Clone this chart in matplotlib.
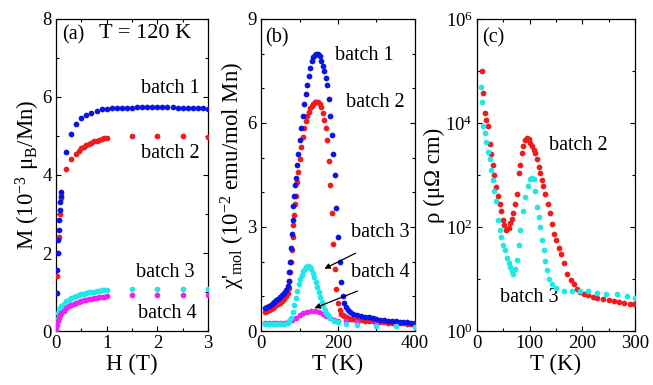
import matplotlib
matplotlib.use("Agg")
import matplotlib.pyplot as plt
import numpy as np
from matplotlib.ticker import MultipleLocator, FixedLocator, LogFormatterSciNotation, NullFormatter

# ---------------- data ----------------
# (a) M vs H at T = 120 K
H_b1 = [0.0, 0.01, 0.02, 0.03, 0.04, 0.05, 0.06, 0.07, 0.08, 0.09, 0.10,
        0.2, 0.3, 0.4, 0.5, 0.6, 0.7, 0.8, 0.9, 1.0, 1.1, 1.2, 1.3, 1.4,
        1.5, 1.6, 1.7, 1.8, 1.9, 2.0, 2.1, 2.2, 2.3, 2.4, 2.5, 2.6, 2.7,
        2.8, 2.9, 3.0]
M_b1 = [0.0, 0.97, 1.56, 2.0, 2.33, 2.6, 2.85, 3.1, 3.3, 3.45, 3.57,
        4.6, 5.05, 5.3, 5.45, 5.55, 5.6, 5.65, 5.68, 5.7, 5.71, 5.72, 5.72, 5.73,
        5.73, 5.74, 5.74, 5.75, 5.75, 5.75, 5.75, 5.74, 5.74, 5.73, 5.73, 5.72, 5.72,
        5.71, 5.71, 5.7]
H_b2 = [0.02, 0.05, 0.08, 0.10, 0.2, 0.3, 0.4, 0.45, 0.5, 0.55, 0.6, 0.65,
        0.7, 0.75, 0.8, 0.85, 0.9, 0.95, 1.0, 1.5, 2.0, 2.5, 3.0]
M_b2 = [1.4, 2.4, 3.0, 3.4, 4.15, 4.42, 4.55, 4.62, 4.68, 4.72, 4.76, 4.8,
        4.83, 4.86, 4.88, 4.9, 4.92, 4.94, 4.95, 5.0, 5.0, 5.0, 4.98]
H_b34 = [0.0, 0.02, 0.04, 0.06, 0.08, 0.1, 0.15, 0.2, 0.25, 0.3, 0.35, 0.4,
         0.45, 0.5, 0.55, 0.6, 0.65, 0.7, 0.75, 0.8, 0.85, 0.9, 0.95, 1.0,
         1.5, 2.0, 2.5, 3.0]
M_b3 = [0.0, 0.3, 0.45, 0.52, 0.58, 0.63, 0.7, 0.76, 0.8, 0.84, 0.87, 0.9,
        0.92, 0.94, 0.96, 0.98, 0.99, 1.0, 1.01, 1.02, 1.03, 1.04, 1.04, 1.05,
        1.07, 1.07, 1.07, 1.07]
M_b4 = [0.05, 0.15, 0.25, 0.33, 0.4, 0.45, 0.52, 0.58, 0.63, 0.67, 0.7, 0.73,
        0.75, 0.77, 0.79, 0.8, 0.82, 0.83, 0.84, 0.85, 0.86, 0.87, 0.88, 0.9,
        0.92, 0.92, 0.92, 0.92]

# (b) chi' vs T
T_b12 = [10, 15, 20, 25, 30, 35, 40, 45, 50, 55, 60, 65, 70, 72, 74, 76, 78, 80,
         82, 84, 86, 88, 90, 93, 96, 100, 104, 108, 112, 116, 120, 124, 128, 132,
         136, 140, 144, 148, 152, 156, 160, 164, 168, 172, 176, 180, 184, 188, 192,
         196, 200, 204, 208, 212, 216, 220, 225, 230, 240, 250, 260, 270, 280, 290,
         300, 310, 320, 330, 340, 350, 360, 370, 380, 390, 400]
chi_b1 = [0.65, 0.68, 0.72, 0.76, 0.8, 0.84, 0.88, 0.93, 0.98, 1.03, 1.1, 1.18, 1.3,
          1.45, 1.7, 2.0, 2.4, 2.8, 3.2, 3.6, 3.9, 4.2, 4.4, 4.8, 5.1, 5.5, 5.85,
          6.2, 6.55, 6.85, 7.1, 7.35, 7.6, 7.78, 7.9, 7.97, 8.0, 7.98, 7.92, 7.8,
          7.65, 7.5, 7.3, 7.1, 6.7, 6.2, 5.65, 5.1, 4.5, 3.55, 2.7, 2.0, 1.4, 1.0,
          0.8, 0.68, 0.6, 0.55, 0.5, 0.46, 0.43, 0.41, 0.39, 0.37, 0.35, 0.33, 0.32,
          0.3, 0.29, 0.28, 0.27, 0.26, 0.25, 0.24, 0.23]
chi_b2 = [0.55, 0.58, 0.61, 0.64, 0.67, 0.7, 0.74, 0.78, 0.82, 0.87, 0.93, 1.0, 1.1,
          1.25, 1.45, 1.7, 2.0, 2.35, 2.7, 3.05, 3.35, 3.65, 3.9, 4.3, 4.6, 4.95,
          5.3, 5.6, 5.85, 6.05, 6.2, 6.32, 6.42, 6.5, 6.56, 6.6, 6.62, 6.6, 6.55,
          6.45, 6.3, 6.1, 5.85, 5.5, 4.9, 4.2, 3.4, 2.5, 1.8, 1.2, 0.8, 0.6, 0.5,
          0.45, 0.42, 0.4, 0.38, 0.36, 0.34, 0.32, 0.31, 0.3, 0.29, 0.28, 0.27,
          0.26, 0.25, 0.24, 0.24, 0.23, 0.22, 0.22, 0.21, 0.21, 0.2]
T_b3 = [10, 20, 30, 40, 50, 60, 70, 74, 78, 82, 86, 90, 94, 98, 102, 106, 110, 114,
        118, 122, 126, 130, 134, 138, 142, 146, 150, 154, 158, 162, 166, 170, 175,
        180, 190, 200, 220, 250, 300, 350, 400]
chi_b3 = [0.2, 0.2, 0.2, 0.2, 0.2, 0.21, 0.22, 0.28, 0.38, 0.55, 0.75, 0.95, 1.15,
          1.35, 1.5, 1.62, 1.73, 1.8, 1.86, 1.88, 1.85, 1.78, 1.68, 1.55, 1.42,
          1.28, 1.12, 0.98, 0.85, 0.73, 0.62, 0.53, 0.45, 0.38, 0.3, 0.25, 0.2,
          0.17, 0.15, 0.13, 0.12]
T_b4 = [10, 20, 30, 40, 50, 60, 70, 80, 90, 100, 110, 120, 130, 140, 150, 160, 170,
        180, 190, 200, 220, 250, 300, 350, 400]
chi_b4 = [0.22, 0.22, 0.22, 0.23, 0.23, 0.24, 0.27, 0.32, 0.38, 0.45, 0.51, 0.55,
          0.58, 0.58, 0.55, 0.5, 0.43, 0.37, 0.33, 0.3, 0.28, 0.26, 0.24, 0.22, 0.2]

# (c) resistivity vs T (values given as log10 of rho in micro-ohm cm)
T_r2 = [9, 12, 15, 18, 21, 24, 27, 30, 33, 36.7, 40, 43, 46, 49, 52, 56, 60, 63, 66,
        69, 72, 75.6, 79, 82, 85, 88, 92, 95, 98, 101, 104, 108, 111, 114, 117, 120,
        123, 126, 130, 134, 139, 143, 146, 150, 155, 159, 165, 171, 178, 184, 190,
        196, 203, 210, 220, 228, 240, 250, 260, 270, 280, 290, 298]
lrho_r2 = [5.0, 4.57, 4.2, 4.05, 3.95, 3.6, 3.4, 3.2, 3.0, 2.77, 2.6, 2.45, 2.3, 2.13,
           2.03, 1.94, 1.98, 2.07, 2.15, 2.26, 2.45, 2.64, 3.03, 3.2, 3.42, 3.55, 3.67,
           3.72, 3.7, 3.62, 3.55, 3.48, 3.42, 3.3, 3.15, 3.03, 2.9, 2.78, 2.64, 2.45,
           2.26, 2.05, 1.87, 1.75, 1.6, 1.49, 1.3, 1.1, 0.98, 0.9, 0.8, 0.75, 0.71,
           0.69, 0.66, 0.64, 0.62, 0.6, 0.58, 0.55, 0.53, 0.52, 0.51]
T_r3 = [8, 9, 12, 15, 18, 21, 24, 27, 30, 33, 37, 40, 43, 46, 50, 53, 57, 60, 63, 66,
        69, 72, 75.6, 79, 82, 87, 92, 96, 101, 105, 108, 111, 114, 117, 120, 124, 127,
        130, 133, 137, 142, 150, 165, 180, 196, 210, 228, 245, 266, 285, 300]
lrho_r3 = [4.7, 4.4, 3.95, 3.8, 3.63, 3.45, 3.3, 3.1, 2.9, 2.7, 2.5, 2.13, 1.95, 1.8,
           1.65, 1.55, 1.4, 1.3, 1.23, 1.15, 1.1, 1.2, 1.36, 1.65, 1.94, 2.3, 2.58,
           2.78, 2.93, 2.95, 2.93, 2.7, 2.39, 2.2, 2.0, 1.75, 1.55, 1.35, 1.17, 1.0,
           0.9, 0.82, 0.77, 0.77, 0.77, 0.76, 0.74, 0.72, 0.71, 0.68, 0.64]

rho_major_ticks = [1, 1e2, 1e4, 1e6]
rho_minor_ticks = [1e1, 1e3, 1e5]

# ---------------- style ----------------
plt.rcParams['font.family'] = ['Liberation Serif', 'DejaVu Serif']
plt.rcParams['mathtext.fontset'] = 'custom'
plt.rcParams['mathtext.rm'] = 'Liberation Serif'
plt.rcParams['mathtext.it'] = 'Liberation Serif:italic'
plt.rcParams['mathtext.bf'] = 'Liberation Serif:bold'

BLUE = '#0a14e6'
RED = '#ee1c1c'
CYAN = '#1ee8e8'
MAG = '#ee22ee'
TICKFS = 13.5
LABFS = 16.5
ANNFS = 14.5
MS = 17

W, Hh = 6.53, 3.85
fig = plt.figure(figsize=(W, Hh), dpi=100)

def px_axes(x0, x1, y0=19, y1=331):
    return fig.add_axes([x0 / 653, 1 - y1 / 385, (x1 - x0) / 653, (y1 - y0) / 385])

def style(ax):
    ax.tick_params(which='both', direction='in', top=True, right=True,
                   labelsize=TICKFS, width=0.8, pad=3)
    ax.tick_params(which='major', length=3.5)
    ax.tick_params(which='minor', length=2)
    for s in ax.spines.values():
        s.set_linewidth(0.9)

# ---- panel (a)
axa = px_axes(56, 208)
axa.scatter(H_b2, M_b2, s=MS, color=RED, lw=0, zorder=3)
axa.scatter(H_b1, M_b1, s=MS, color=BLUE, lw=0, zorder=4)
axa.scatter(H_b34, M_b3, s=MS, color=CYAN, lw=0, zorder=3)
axa.scatter(H_b34, M_b4, s=MS, color=MAG, lw=0, zorder=4)
axa.set_xlim(0, 3)
axa.set_ylim(0, 8)
axa.xaxis.set_major_locator(MultipleLocator(1))
axa.xaxis.set_minor_locator(MultipleLocator(0.5))
axa.yaxis.set_major_locator(MultipleLocator(2))
axa.yaxis.set_minor_locator(MultipleLocator(1))
style(axa)
axa.set_xlabel('H (T)', fontsize=LABFS, labelpad=1)
axa.set_ylabel(r'M (10$^{-3}$ $\mathrm{\mu}_{\mathrm{B}}$/Mn)', fontsize=LABFS, labelpad=0)
axa.text(0.12, 7.6, '(a)', fontsize=ANNFS, va='center', ha='left')
axa.text(0.85, 7.62, 'T = 120 K', fontsize=16, va='center', ha='left')
axa.text(2.25, 6.23, 'batch 1', fontsize=ANNFS, va='center', ha='center')
axa.text(2.25, 4.56, 'batch 2', fontsize=ANNFS, va='center', ha='center')
axa.text(2.15, 1.51, 'batch 3', fontsize=ANNFS, va='center', ha='center')
axa.text(2.2, 0.46, 'batch 4', fontsize=ANNFS, va='center', ha='center')

# ---- panel (b)
axb = px_axes(261, 415)
axb.scatter(T_b12, chi_b2, s=MS, color=RED, lw=0, zorder=3)
axb.scatter(T_b12, chi_b1, s=MS, color=BLUE, lw=0, zorder=4)
axb.scatter(T_b4, chi_b4, s=MS, color=MAG, lw=0, zorder=3)
axb.scatter(T_b3, chi_b3, s=MS, color=CYAN, lw=0, zorder=4)
axb.set_xlim(0, 400)
axb.set_ylim(0, 9)
axb.xaxis.set_major_locator(MultipleLocator(200))
axb.xaxis.set_minor_locator(MultipleLocator(100))
axb.yaxis.set_major_locator(MultipleLocator(3))
axb.yaxis.set_minor_locator(MultipleLocator(1))
style(axb)
axb.set_xlabel('T (K)', fontsize=LABFS, labelpad=1)
axb.set_ylabel("χ'$_{\\mathrm{mol}}$ (10$^{-2}$ emu/mol Mn)", fontsize=LABFS, labelpad=0)
axb.text(10, 8.45, '(b)', fontsize=ANNFS, va='center', ha='left')
axb.text(268, 7.96, 'batch 1', fontsize=ANNFS, va='center', ha='center')
axb.text(296, 6.58, 'batch 2', fontsize=ANNFS, va='center', ha='center')
axb.text(309, 2.83, 'batch 3', fontsize=ANNFS, va='center', ha='center')
axb.text(309, 1.70, 'batch 4', fontsize=ANNFS, va='center', ha='center')
arrow = dict(arrowstyle='-|>', color='black', lw=0.9, mutation_scale=8)
axb.annotate('', xy=(158, 1.76), xytext=(252, 2.28), arrowprops=arrow, zorder=6)
axb.annotate('', xy=(132, 0.63), xytext=(257, 1.18), arrowprops=arrow, zorder=6)

# ---- panel (c)
axc = px_axes(477, 635)
axc.scatter(T_r2, np.power(10.0, lrho_r2), s=MS, color=RED, lw=0, zorder=3)
axc.scatter(T_r3, np.power(10.0, lrho_r3), s=MS, color=CYAN, lw=0, zorder=4)
axc.set_yscale('log')
axc.set_xlim(0, 300)
axc.set_ylim(1, 1e6)
axc.xaxis.set_major_locator(MultipleLocator(100))
axc.xaxis.set_minor_locator(MultipleLocator(50))
axc.yaxis.set_major_locator(FixedLocator(rho_major_ticks))
axc.yaxis.set_major_formatter(LogFormatterSciNotation())
axc.yaxis.set_minor_locator(FixedLocator(rho_minor_ticks))
axc.yaxis.set_minor_formatter(NullFormatter())
style(axc)
axc.set_xlabel('T (K)', fontsize=LABFS, labelpad=1)
axc.set_ylabel('ρ (μΩ cm)', fontsize=LABFS, labelpad=0)
axc.text(9.5, 10 ** 5.63, '(c)', fontsize=ANNFS, va='center', ha='left')
axc.text(192, 10 ** 3.56, 'batch 2', fontsize=ANNFS, va='center', ha='center')
axc.text(100, 10 ** 0.65, 'batch 3', fontsize=ANNFS, va='center', ha='center')

fig.savefig('out.png', dpi=100)
